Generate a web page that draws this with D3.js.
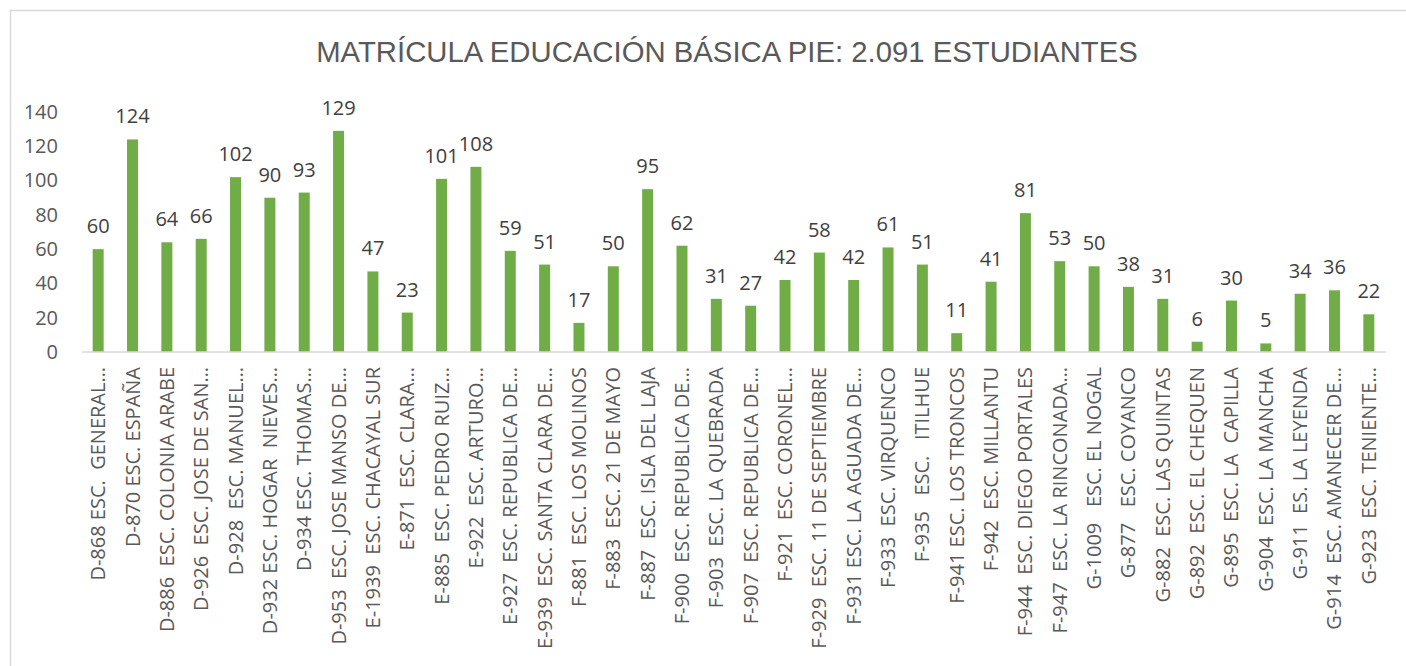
<html>
<head>
<meta charset="utf-8">
<style>
  body { margin: 0; background: #fff; }
  svg { display: block; }
  text { font-family: "Open Sans", sans-serif; }
  .tick text { fill: #595959; }
</style>
<script src="https://d3js.org/d3.v7.min.js"></script>
</head>
<body>
<div id="container"></div>
<script>

const title = "MATRÍCULA EDUCACIÓN BÁSICA PIE: 2.091 ESTUDIANTES";

const schools = [
  "D-868 ESC.  GENERAL…", "D-870 ESC. ESPAÑA", "D-886  ESC. COLONIA ARABE", "D-926  ESC. JOSE DE SAN…",
  "D-928  ESC. MANUEL…", "D-932 ESC. HOGAR  NIEVES…", "D-934 ESC. THOMAS…", "D-953  ESC. JOSE MANSO DE…",
  "E-1939  ESC. CHACAYAL SUR", "E-871  ESC. CLARA…", "E-885  ESC. PEDRO RUIZ…", "E-922  ESC. ARTURO…",
  "E-927  ESC. REPUBLICA DE…", "E-939  ESC. SANTA CLARA DE…", "F-881  ESC. LOS MOLINOS", "F-883  ESC. 21 DE MAYO",
  "F-887  ESC. ISLA DEL LAJA", "F-900  ESC. REPUBLICA DE…", "F-903  ESC. LA QUEBRADA", "F-907  ESC. REPUBLICA DE…",
  "F-921  ESC. CORONEL…", "F-929  ESC. 11 DE SEPTIEMBRE", "F-931 ESC. LA AGUADA DE…", "F-933  ESC. VIRQUENCO",
  "F-935   ESC.   ITILHUE", "F-941 ESC. LOS TRONCOS", "F-942  ESC. MILLANTU", "F-944  ESC. DIEGO PORTALES",
  "F-947  ESC. LA RINCONADA…", "G-1009   ESC. EL NOGAL", "G-877   ESC. COYANCO", "G-882  ESC. LAS QUINTAS",
  "G-892  ESC. EL CHEQUEN", "G-895  ESC. LA  CAPILLA", "G-904  ESC. LA MANCHA", "G-911  ES. LA LEYENDA",
  "G-914  ESC. AMANECER DE…", "G-923  ESC. TENIENTE…"
];

const students = [
  60, 124, 64, 66, 102, 90, 93, 129, 47, 23, 101, 108, 59, 51, 17, 50, 95, 62, 31, 27,
  42, 58, 42, 61, 51, 11, 41, 81, 53, 50, 38, 31, 6, 30, 5, 34, 36, 22
];

const yTicks = [0, 20, 40, 60, 80, 100, 120, 140];

const W = 1406, H = 666;
const baseY = 352, topY = 112, left = 81, right = 1386;

const svg = d3.select("#container").append("svg")
    .attr("width", W)
    .attr("height", H);

// chart frame (only top and left edges show inside the window)
svg.append("rect")
    .attr("x", 10.5).attr("y", 10.5)
    .attr("width", W + 20).attr("height", H + 20)
    .attr("fill", "none")
    .attr("stroke", "#d9d9d9")
    .attr("stroke-width", 1.5);

const tt = svg.append("text")
    .attr("x", 727).attr("y", 62)
    .attr("text-anchor", "middle")
    .attr("fill", "#595959")
    .style("font-family", "'Liberation Sans', Arial, sans-serif")
    .style("font-size", "28px")
    .text(title);
// fit title width to the reference
const tw = tt.node().getComputedTextLength();
tt.style("font-size", (28 * 822 / tw) + "px");

const x = d3.scaleBand()
    .domain(schools)
    .range([left, right])
    .paddingInner(0.68)
    .paddingOuter(0.34);

const y = d3.scaleLinear()
    .domain([0, 140])
    .range([baseY, topY]);

// y axis (labels only)
const yaxis = d3.axisLeft(y).tickValues(yTicks).tickSize(0).tickPadding(0);
svg.append("g")
    .attr("transform", "translate(58,0)")
    .call(yaxis)
    .call(g => g.select(".domain").remove())
    .selectAll("text")
        .style("font-size", "20px")
        .style("font-family", "'Open Sans', sans-serif");

// bars
svg.append("g").selectAll("rect")
    .data(students)
    .join("rect")
    .attr("x", (d, i) => x(schools[i]))
    .attr("y", d => y(d))
    .attr("width", x.bandwidth())
    .attr("height", d => baseY - y(d))
    .attr("fill", "#70ad47");

// value labels
svg.append("g").selectAll("text")
    .data(students)
    .join("text")
    .attr("x", (d, i) => x(schools[i]) + x.bandwidth() / 2)
    .attr("y", d => y(d) - 16)
    .attr("text-anchor", "middle")
    .attr("fill", "#404040")
    .style("font-size", "20px")
    .text(d => d);

// x axis
const xaxis = d3.axisBottom(x).tickSize(0).tickPadding(0);
svg.append("g")
    .attr("transform", "translate(0," + baseY + ")")
    .call(xaxis)
    .call(g => g.select(".domain")
        .attr("stroke", "#d9d9d9")
        .attr("stroke-width", 1.5)
        .attr("d", "M" + (left + 1) + ",0H" + right))
    .selectAll("text")
        .attr("xml:space", "preserve")
        .style("white-space", "pre")
        .style("font-size", "20px")
        .style("font-family", "'Open Sans', sans-serif")
        .style("text-anchor", "end")
        .attr("dy", "0.35em")
        .attr("y", 0)
        .attr("transform", "translate(0,15)rotate(-90)");

</script>
</body>
</html>
